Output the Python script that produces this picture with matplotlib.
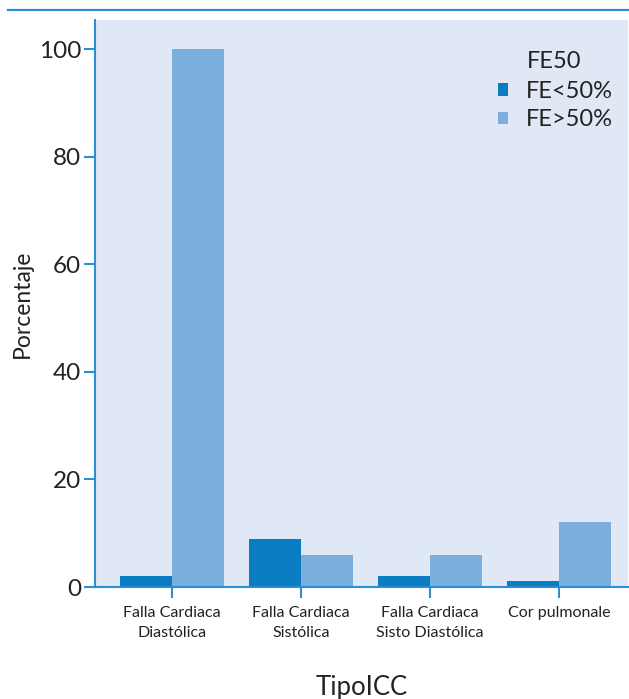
import matplotlib
matplotlib.use("Agg")
import matplotlib.pyplot as plt
from matplotlib.lines import Line2D
import numpy as np

# data
categories = ["Falla Cardiaca\nDiastólica", "Falla Cardiaca\nSistólica",
              "Falla Cardiaca\nSisto Diastólica", "Cor pulmonale"]
fe_lt50 = [2, 9, 2, 1.2]
fe_gt50 = [100, 6, 6, 12]
series_labels = ["FE<50%", "FE>50%"]
legend_title = "FE50"

DARK = "#0a7cc4"
LIGHT = "#7aaedd"
BG = "#dfe8f4"
SPINE = "#2a8fd4"
TEXT = "#222222"

plt.rcParams["font.family"] = ["Lato", "DejaVu Sans"]

fig = plt.figure(figsize=(6.29, 6.99), dpi=100)
ax = fig.add_axes([95 / 629, 1 - 587 / 699, (628 - 95) / 629, (587 - 20) / 699])
ax.set_facecolor(BG)

x = np.arange(len(categories))
w = 0.405
ax.bar(x - w / 2, fe_lt50, width=w, color=DARK, label=series_labels[0])
ax.bar(x + w / 2, fe_gt50, width=w, color=LIGHT, label=series_labels[1])

ax.set_xlim(-0.597, 3.535)
ax.set_ylim(0, 105.4)
ax.set_yticks([0, 20, 40, 60, 80, 100])
ax.set_xticks(x)
ax.set_xticklabels(categories, fontsize=11.5, color=TEXT, linespacing=1.55)
ax.tick_params(axis="y", labelsize=17.5, colors=SPINE, labelcolor=TEXT, length=8, width=1.5, pad=2)
ax.tick_params(axis="x", colors=SPINE, labelcolor=TEXT, length=8, width=1.5, pad=6)

for side in ["top", "right"]:
    ax.spines[side].set_visible(False)
for side in ["left", "bottom"]:
    ax.spines[side].set_color(SPINE)
    ax.spines[side].set_linewidth(1.5)

ax.set_ylabel("Porcentaje", fontsize=16.5, color=TEXT, labelpad=4)
ax.set_xlabel("TipoICC", fontsize=18.5, color=TEXT, labelpad=25)

leg = ax.legend(loc="upper right", bbox_to_anchor=(1.012, 0.93),
                frameon=False, fontsize=17,
                handlelength=0.45, handleheight=0.45, handletextpad=0.75,
                labelspacing=0.32)
for t in leg.get_texts():
    t.set_color(TEXT)
ax.text((527 - 95) / 533, (587 - 62) / 567, legend_title, transform=ax.transAxes,
        fontsize=17, color=TEXT, ha="left", va="center")

# thin rule across the top of the figure
fig.add_artist(Line2D([8 / 629, 1], [1 - 10 / 699, 1 - 10 / 699],
                      transform=fig.transFigure, color=SPINE, lw=1.6))

fig.savefig("out.png", dpi=100)
